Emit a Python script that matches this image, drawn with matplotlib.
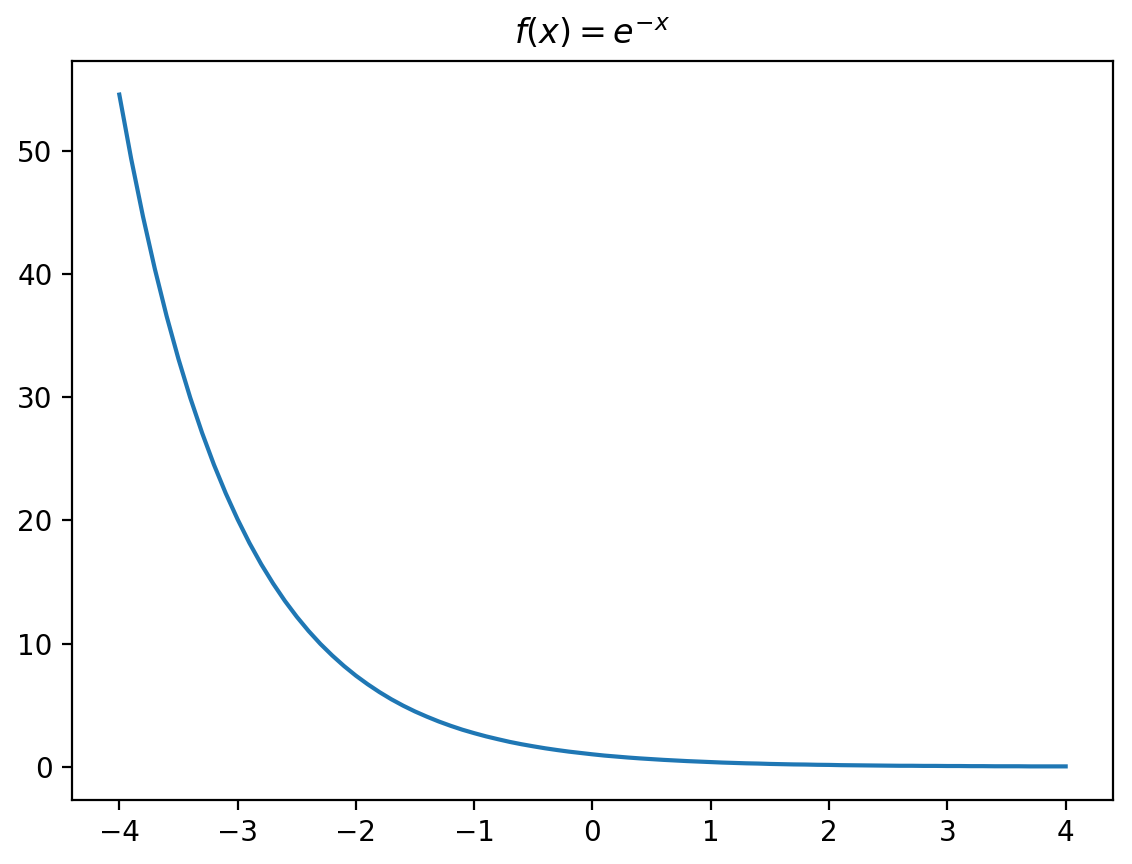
import matplotlib
matplotlib.use("Agg")
import matplotlib.pyplot as plt

x_values = [-4.0, -3.9, -3.8, -3.7, -3.6, -3.5, -3.4, -3.3, -3.2, -3.1,
            -3.0, -2.9, -2.8, -2.7, -2.6, -2.5, -2.4, -2.3, -2.2, -2.1,
            -2.0, -1.9, -1.8, -1.7, -1.6, -1.5, -1.4, -1.3, -1.2, -1.1,
            -1.0, -0.9, -0.8, -0.7, -0.6, -0.5, -0.4, -0.3, -0.2, -0.1,
            0.0, 0.1, 0.2, 0.3, 0.4, 0.5, 0.6, 0.7, 0.8, 0.9,
            1.0, 1.1, 1.2, 1.3, 1.4, 1.5, 1.6, 1.7, 1.8, 1.9,
            2.0, 2.1, 2.2, 2.3, 2.4, 2.5, 2.6, 2.7, 2.8, 2.9,
            3.0, 3.1, 3.2, 3.3, 3.4, 3.5, 3.6, 3.7, 3.8, 3.9, 4.0]

y_values = [54.60, 49.40, 44.70, 40.45, 36.60, 33.12, 29.96, 27.11, 24.53, 22.20,
            20.09, 18.17, 16.44, 14.88, 13.46, 12.18, 11.02, 9.97, 9.03, 8.17,
            7.39, 6.69, 6.05, 5.47, 4.95, 4.48, 4.06, 3.67, 3.32, 3.00,
            2.72, 2.46, 2.23, 2.01, 1.82, 1.65, 1.49, 1.35, 1.22, 1.11,
            1.00, 0.90, 0.82, 0.74, 0.67, 0.61, 0.55, 0.50, 0.45, 0.41,
            0.37, 0.33, 0.30, 0.27, 0.25, 0.22, 0.20, 0.18, 0.17, 0.15,
            0.14, 0.12, 0.11, 0.10, 0.09, 0.08, 0.07, 0.07, 0.06, 0.06,
            0.05, 0.05, 0.04, 0.04, 0.03, 0.03, 0.03, 0.02, 0.02, 0.02, 0.02]

title = r"$f(x) = e^{-x}$"

fig, ax = plt.subplots(figsize=(5.66, 4.32), dpi=200)
ax.plot(x_values, y_values, color="#1f77b4")
ax.set_title(title)
fig.subplots_adjust(left=0.0636, right=0.9832, top=0.9294, bottom=0.0741)
fig.savefig("out.png", dpi=200)
